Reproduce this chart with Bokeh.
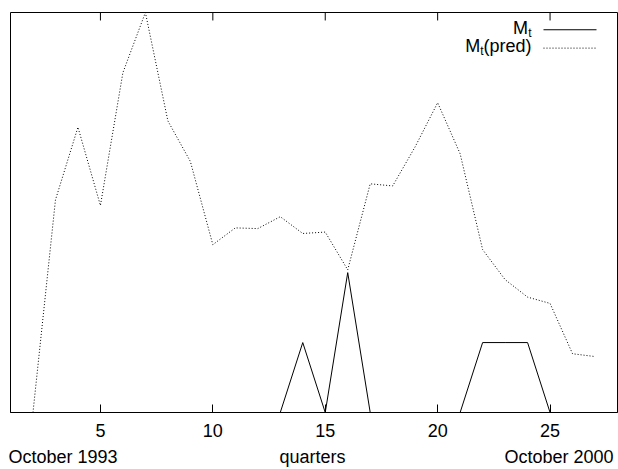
from bokeh.plotting import figure
from bokeh.models import Range1d, FixedTicker, LinearAxis, Label
from bokeh.embed import file_html
from bokeh.resources import INLINE

# ---- data ----
quarters = list(range(1, 28))
m_actual = [0, 0, 0, 0, 0, 0, 0, 0, 0, 0, 0, 0, 0, 1, 0, 2, 0, 0, 0, 0, 0, 1, 1, 1, 0, 0, 0]
pred_quarters = list(range(2, 28))
m_pred = [0, 3.04, 4.08, 2.96, 4.86, 5.72, 4.17, 3.59, 2.40, 2.64, 2.63, 2.80, 2.56,
          2.58, 2.04, 3.27, 3.24, 3.80, 4.43, 3.70, 2.33, 1.90, 1.65, 1.56, 0.84, 0.80]
tick_values = [5, 10, 15, 20, 25]
bottom_texts = ["October 1993", "quarters", "October 2000"]

FONT = "Liberation Sans"
W, H = 618, 469
ML, MR, MT, MB = 10, 1, 12, 56
X0, X1 = 1, 28
Y0, Y1 = 0, max(m_pred)

p = figure(width=W, height=H, x_range=Range1d(X0, X1), y_range=Range1d(Y0, Y1),
           y_axis_location=None, output_backend="svg", toolbar_location=None,
           min_border_left=ML, min_border_right=MR, min_border_top=MT, min_border_bottom=MB)
p.grid.visible = False
p.outline_line_color = "black"
p.outline_line_width = 1
p.background_fill_color = "white"
p.border_fill_color = "white"

fw = W - ML - MR
fh = H - MT - MB
def dx(px):
    return X0 + (px - ML) / fw * (X1 - X0)
def dy(py):
    return Y0 + (MT + fh - py) / fh * (Y1 - Y0)

xa = p.xaxis[0]
xa.ticker = FixedTicker(ticks=tick_values)
xa.major_tick_in = 8
xa.major_tick_out = 0
xa.minor_tick_in = 0
xa.minor_tick_out = 0
xa.axis_line_color = "black"
xa.major_tick_line_color = "black"
xa.major_label_text_font = FONT
xa.major_label_text_font_size = "18px"
xa.major_label_text_color = "black"
xa.major_label_standoff = 11

# second, line-less axis below carrying the three bottom texts
w18 = 0.5 * 6.06 * 18  # half width of "October 1993"/"October 2000" at 18px
pos = [dx(8 + w18), dx(312), dx(613 - w18)]
bax = LinearAxis(ticker=FixedTicker(ticks=pos),
                 major_label_overrides={pos[i]: bottom_texts[i] for i in range(3)},
                 major_tick_in=0, major_tick_out=0, minor_tick_in=0, minor_tick_out=0,
                 axis_line_color=None, major_label_text_font=FONT,
                 major_label_text_font_size="18px", major_label_text_color="black",
                 major_label_standoff=7)
p.add_layout(bax, "below")

# mirrored ticks on the top edge of the frame
p.segment(x0=tick_values, y0=[Y1] * len(tick_values), x1=tick_values,
          y1=[dy(MT + 8)] * len(tick_values), line_color="black", line_width=1)

# data lines
p.line(quarters, m_actual, line_color="black", line_width=1)
p.line(pred_quarters, m_pred, line_color="black", line_width=1, line_dash="1 2")

# legend (gnuplot style: text right-aligned, sample line to its right)
p.segment(x0=[dx(543)], y0=[dy(29.3)], x1=[dx(596)], y1=[dy(29.3)], line_color="black", line_width=1)
p.segment(x0=[dx(543)], y0=[dy(47.7)], x1=[dx(596)], y1=[dy(47.7)], line_color="black",
          line_width=1, line_dash="1 2")

def lab(px, py, text, size, align):
    p.add_layout(Label(x=dx(px), y=dy(py), text=text, text_font=FONT, text_font_size=size,
                       text_align=align, text_baseline="middle", text_color="black"))

lab(531, 32.5, "t", "12px", "right")
lab(527.5, 27.5, "M", "18px", "right")
lab(531, 45.5, "(pred)", "18px", "right")
lab(483, 50.5, "t", "12px", "right")
lab(479.7, 45.5, "M", "18px", "right")

open("out.html", "w").write(file_html(p, INLINE))
